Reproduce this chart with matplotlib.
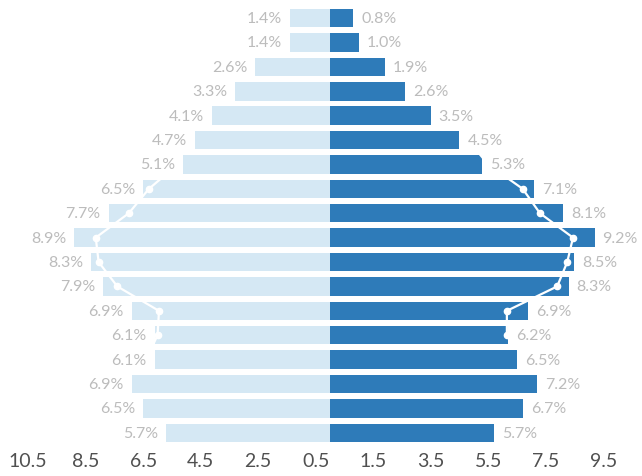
import matplotlib.pyplot as plt
import numpy as np

plt.rcParams['font.family'] = ['Lato', 'DejaVu Sans']

# age groups, oldest at the top
female = [1.4, 1.4, 2.6, 3.3, 4.1, 4.7, 5.1, 6.5, 7.7, 8.9, 8.3, 7.9, 6.9, 6.1, 6.1, 6.9, 6.5, 5.7]
male = [0.8, 1.0, 1.9, 2.6, 3.5, 4.5, 5.3, 7.1, 8.1, 9.2, 8.5, 8.3, 6.9, 6.2, 6.5, 7.2, 6.7, 5.7]

# comparison profile (rows 6..15)
comp_rows = [5, 6, 7, 8, 9, 10, 11, 12, 13, 14]
female_comp = [5.0, 5.3, 6.3, 7.0, 8.15, 8.05, 7.4, 5.95, 6.0, 6.4]
male_comp = [4.8, 5.5, 6.7, 7.3, 8.45, 8.25, 7.9, 6.15, 6.15, 6.8]

ticks = np.arange(-10.5, 10, 2)

light = '#d5e8f4'
dark = '#2e7bb9'
label_grey = '#bcbcbc'

fig = plt.figure(figsize=(6.42, 4.77), dpi=100)
ax = fig.add_axes([0, 0.067, 1, 0.933])

y = np.arange(len(female))
ax.barh(y, -np.array(female), height=0.76, color=light, zorder=1)
ax.barh(y, male, height=0.76, color=dark, zorder=1)

ax.plot(-np.array(female_comp), comp_rows, color='white', lw=1.6,
        marker='o', ms=4.5, zorder=3)
ax.plot(male_comp, comp_rows, color='white', lw=1.6,
        marker='o', ms=4.5, zorder=3)

for i, (f, m) in enumerate(zip(female, male)):
    ax.text(-f - 0.28, i, f'{f:.1f}%', ha='right', va='center',
            fontsize=11.5, color=label_grey, zorder=4)
    ax.text(m + 0.28, i, f'{m:.1f}%', ha='left', va='center',
            fontsize=11.5, color=label_grey, zorder=4)

ax.set_xlim(-11.48, 10.85)
ax.set_ylim(17.46, -0.78)
ax.set_xticks(ticks)
ax.set_xticklabels([f'{abs(t):.1f}' for t in ticks], fontsize=14, color='#505050')
ax.tick_params(axis='x', length=0, pad=6)
ax.set_yticks([])
for s in ax.spines.values():
    s.set_visible(False)

fig.savefig('out.png', dpi=100)
